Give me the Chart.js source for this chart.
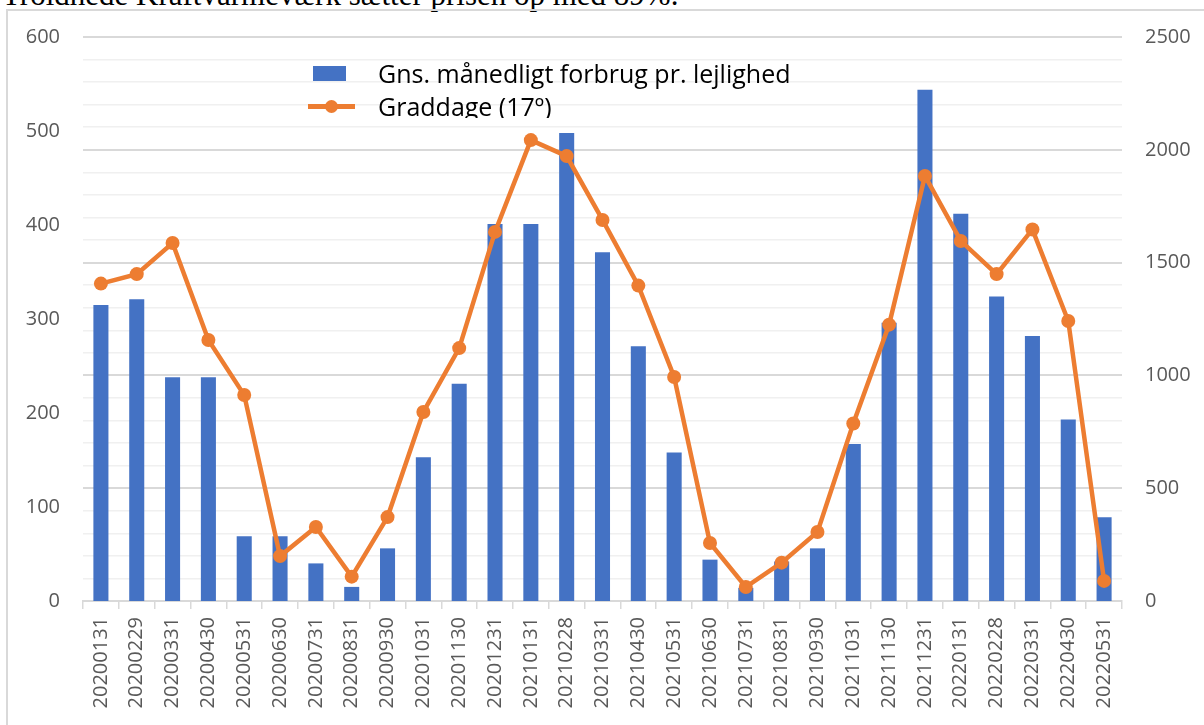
<!DOCTYPE html>
<html>
<head>
<meta charset="utf-8">
<script src="https://cdn.jsdelivr.net/npm/chart.js@4"></script>
<style>
  body { margin: 0; background: #fff; overflow: hidden; }
  #wrap { position: relative; width: 1204px; height: 725px; overflow: hidden; }
  #title { position: absolute; left: 2px; top: -20px; font: 31px/30px "Liberation Serif", serif; color: #000; white-space: nowrap; }
  #frame { position: absolute; left: 6px; top: 9px; width: 1400px; height: 900px; border: 2px solid #d9d9d9; }
  #chart { position: absolute; left: 0; top: 0; }
  #legend { position: absolute; left: 300px; top: 58px; width: 540px; height: 60px; overflow: hidden; font: 25px "Open Sans", sans-serif; color: #000; }
  .row { position: absolute; left: 0; height: 30px; white-space: nowrap; }
  .row span { position: absolute; left: 78px; top: 0; line-height: 30px; }
</style>
</head>
<body>
<div id="wrap">
  <div id="title">Troldhede Kraftvarmeværk sætter prisen op med 89%.</div>
  <div id="frame"></div>
  <canvas id="chart" width="1204" height="725"></canvas>
  <div id="legend">
    <div class="row" style="top:0">
      <div style="position:absolute;left:13px;top:8px;width:33px;height:15px;background:#4472C4"></div>
      <span>Gns. månedligt forbrug pr. lejlighed</span>
    </div>
    <div class="row" style="top:33px">
      <div style="position:absolute;left:8px;top:13px;width:47px;height:5px;background:#ED7D31"></div>
      <div style="position:absolute;left:25px;top:9px;width:13px;height:13px;border-radius:50%;background:#ED7D31"></div>
      <span>Graddage (17º)</span>
    </div>
  </div>
</div>
<script>
const dates = ["20200131","20200229","20200331","20200430","20200531","20200630","20200731","20200831","20200930","20201031","20201130","20201231",
  "20210131","20210228","20210331","20210430","20210531","20210630","20210731","20210831","20210930","20211031","20211130","20211231",
  "20220131","20220228","20220331","20220430","20220531"];
const forbrug = [315,321,238,238,69,69,40,15,56,153,231,401,
  401,498,371,271,158,44,14,42,56,167,296,544,
  412,324,282,193,89];
const graddage = [1407,1449,1587,1157,913,199,328,108,372,838,1121,1636,
  2043,1972,1689,1398,993,257,62,170,306,787,1225,1884,
  1596,1449,1647,1241,89];
const leftTicks = [0,100,200,300,400,500,600];
const rightTicks = [0,500,1000,1500,2000,2500];

const tickFont = { family: "Open Sans", size: 20 };

new Chart(document.getElementById("chart"), {
  type: 'bar',
  data: {
    labels: dates,
    datasets: [
      {
        type: 'line',
        label: 'Graddage (17º)',
        data: graddage,
        yAxisID: 'y1',
        borderColor: '#ED7D31',
        backgroundColor: '#ED7D31',
        borderWidth: 4.5,
        pointRadius: 7,
        pointBorderWidth: 0,
        pointBackgroundColor: '#ED7D31',
        tension: 0,
        order: 0
      },
      {
        label: 'Gns. månedligt forbrug pr. lejlighed',
        data: forbrug,
        yAxisID: 'y',
        backgroundColor: '#4472C4',
        categoryPercentage: 1,
        barPercentage: 0.42,
        order: 1
      }
    ]
  },
  options: {
    responsive: false,
    animation: false,
    layout: { padding: { top: 37, left: 0, right: 0, bottom: 0 } },
    plugins: { legend: { display: false }, tooltip: { enabled: false } },
    scales: {
      x: {
        grid: { drawOnChartArea: false, color: '#d9d9d9', lineWidth: 1.5, tickLength: 8, offset: true },
        border: { color: '#d9d9d9', width: 2 },
        ticks: { font: tickFont, color: '#595959', minRotation: 90, maxRotation: 90, padding: 8, autoSkip: false },
        afterFit: s => { s.height = 124; }
      },
      y: {
        position: 'left',
        min: 0, max: 600,
        grid: { display: false, drawTicks: false },
        border: { display: false },
        ticks: { font: tickFont, color: '#595959', padding: 23, stepSize: 100, autoSkip: false,
          callback: v => leftTicks.includes(v) ? v : '' },
        afterFit: s => { s.width = 83; }
      },
      y1: {
        position: 'right',
        min: 0, max: 2500,
        grid: {
          drawTicks: false,
          color: c => c.tick && c.tick.value % 500 === 0 ? '#d9d9d9' : '#f0f0f0',
          lineWidth: c => c.tick && c.tick.value % 500 === 0 ? 2 : 1.5
        },
        border: { display: false },
        ticks: { font: tickFont, color: '#595959', padding: 23, stepSize: 100, autoSkip: false,
          callback: v => rightTicks.includes(v) ? v : '' },
        afterFit: s => { s.width = 82; }
      }
    }
  }
});
</script>
</body>
</html>
